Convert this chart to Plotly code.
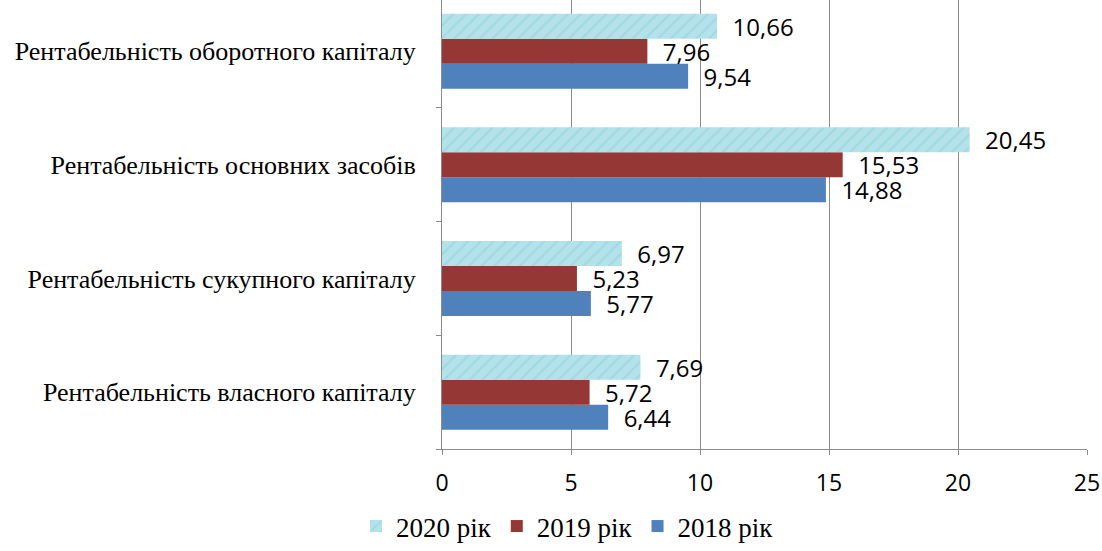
import plotly.graph_objects as go

categories = [
    "Рентабельність власного капіталу",
    "Рентабельність сукупного капіталу",
    "Рентабельність основних засобів",
    "Рентабельність оборотного капіталу",
]
values_2018 = [6.44, 5.77, 14.88, 9.54]
values_2019 = [5.72, 5.23, 15.53, 7.96]
values_2020 = [7.69, 6.97, 20.45, 10.66]
x_ticks = [0, 5, 10, 15, 20, 25]

serif = "Liberation Serif, Times New Roman, serif"
sans = "Open Sans, sans-serif"
label_font = dict(family=sans, size=24, color="#000000")
gap = "\u00a0\u00a0"

fig = go.Figure()
fig.add_trace(go.Bar(
    y=categories, x=values_2018, orientation="h", name="2018 рік",
    marker=dict(color="#4f81bd", line=dict(width=0)),
    texttemplate=gap + "%{x:.2f}", textposition="outside", textfont=label_font,
    constraintext="none", cliponaxis=False,
))
fig.add_trace(go.Bar(
    y=categories, x=values_2019, orientation="h", name="2019 рік",
    marker=dict(color="#953735", line=dict(width=0)),
    texttemplate=gap + "%{x:.2f}", textposition="outside", textfont=label_font,
    constraintext="none", cliponaxis=False,
))
fig.add_trace(go.Bar(
    y=categories, x=values_2020, orientation="h", name="2020 рік",
    marker=dict(
        color="#b3e2ea", line=dict(width=0),
        pattern=dict(shape="/", fgcolor="#8fcfda", bgcolor="#b3e2ea",
                     size=9, solidity=0.25),
    ),
    texttemplate=gap + "%{x:.2f}", textposition="outside", textfont=label_font,
    constraintext="none", cliponaxis=False,
))

fig.update_layout(
    width=1102, height=551,
    margin=dict(l=442, r=15, t=0, b=102),
    paper_bgcolor="white", plot_bgcolor="white",
    barmode="group", bargap=0.34, bargroupgap=0,
    separators=", ",
    showlegend=True,
    legend=dict(
        orientation="h", traceorder="reversed",
        xref="container", yref="container",
        x=0.515, xanchor="center", y=0.0, yanchor="bottom",
        font=dict(family=serif, size=27, color="#000000"),
        itemwidth=30, entrywidth=0, tracegroupgap=0,
    ),
    xaxis=dict(
        range=[0, 25], tickvals=x_ticks, ticktext=[str(v) for v in x_ticks],
        showgrid=True, gridcolor="#8c8c8c", gridwidth=1,
        showline=True, linecolor="#8c8c8c", linewidth=1,
        ticks="outside", ticklen=5, tickcolor="#8c8c8c",
        tickfont=dict(family=sans, size=23, color="#000000"),
        ticklabelstandoff=8,
        zeroline=False, fixedrange=True,
    ),
    yaxis=dict(
        categoryorder="array", categoryarray=categories,
        range=[-0.5, 3.45],
        showline=True, linecolor="#8c8c8c", linewidth=1,
        ticks="outside", ticklen=5, tickcolor="#8c8c8c", tickson="boundaries",
        tickfont=dict(family=serif, size=26, color="#000000"),
        ticklabelstandoff=20, showgrid=False, fixedrange=True,
    ),
)

fig.write_html("out.html")
